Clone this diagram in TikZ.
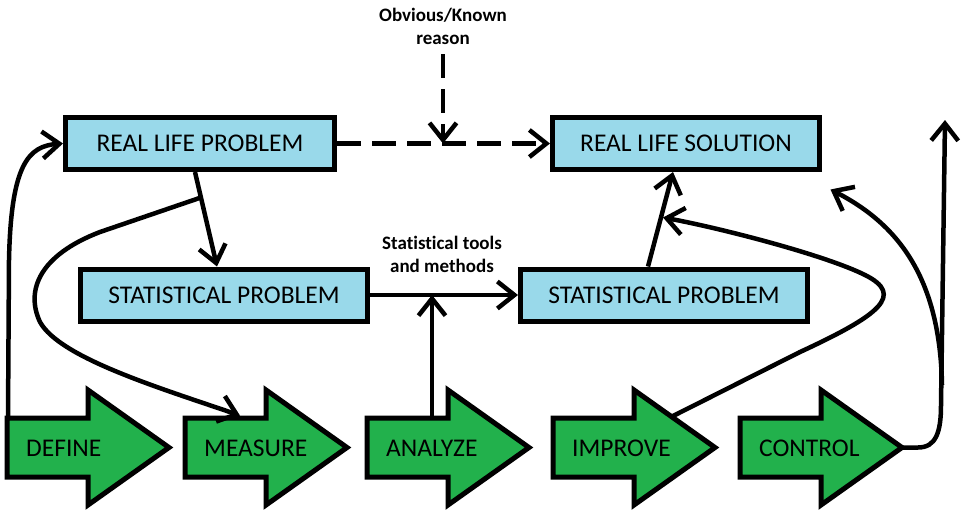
\documentclass[tikz,border=0pt]{standalone}
\usepackage{fontspec}
\setmainfont{Carlito}[Ligatures=NoCommon]
\usetikzlibrary{arrows.meta,calc}
\definecolor{boxblue}{HTML}{99D9EA}
\definecolor{stagegreen}{HTML}{22B14C}

% one DMAIC stage: name, left x, label
\newcommand\stagearrow[3]{%
  \draw[stageshape] (#2,418) -- (#2+81,418) -- (#2+81,390) -- (#2+162,447.5)
    -- (#2+81,505) -- (#2+81,477) -- (#2,477) -- cycle;
  \node[stagespan] (#1) at (#2,447.5) {};
  \node[stagetext] (#1-label) at (#2+19,448) {#3};
}

\begin{document}
\begin{tikzpicture}[x=1pt,y=-1pt,
  conn/.style={line width=4.5pt,-{Straight Barb[length=17pt,width=27pt]}},
  dashconn/.style={conn,dash pattern=on 24pt off 11pt},
  bluebox/.style={draw,line width=5pt,fill=boxblue,inner sep=0pt,
    minimum height=52pt,font=\fontsize{25.5}{30}\selectfont},
  stageshape/.style={draw,line width=5pt,fill=stagegreen,line join=miter},
  stagespan/.style={inner sep=0pt,minimum width=162pt,minimum height=115pt,anchor=west},
  stagetext/.style={inner sep=0pt,anchor=west,font=\fontsize{25.5}{30}\selectfont},
  note/.style={align=center,inner sep=0pt,font=\bfseries\fontsize{19}{23}\selectfont}]

\fill[white] (0,0) rectangle (963,509);
\useasboundingbox (0,0) rectangle (963,509);

% problem / solution boxes
\node[bluebox,minimum width=269pt] (rlp) at (200,143.5) {REAL LIFE PROBLEM};
\node[bluebox,minimum width=267pt] (rls) at (686,143.5) {REAL LIFE SOLUTION};
\node[bluebox,minimum width=287pt] (st1) at (224,295) {STATISTICAL PROBLEM};
\node[bluebox,minimum width=287pt] (st2) at (664,295) {STATISTICAL PROBLEM};

% notes
\node[note] (why) at (443,26) {Obvious/Known\\reason};
\node[note] (tools) at (442,254) {Statistical tools\\and methods};

% DMAIC stages
\stagearrow{def}{7}{DEFINE}
\stagearrow{mea}{185}{MEASURE}
\stagearrow{ana}{367}{ANALYZE}
\stagearrow{imp}{553}{IMPROVE}
\stagearrow{con}{740}{CONTROL}

% shortcut through the obvious reason
\coordinate (join) at (why.south |- rlp.east);
\draw[dashconn] (rlp.east) -- (rls.west);
\draw[dashconn,shorten <=10pt] (why.south) -- (join);

% statistical route
\coordinate (rlpout) at ($(rlp.south)+(-5,0)$);
\coordinate (st1in) at ($(st1.north)+(-7,0)$);
\draw[conn] (rlpout) -- (st1in);
\draw[conn] (st1.east) -- (st2.west);
\coordinate (anatop) at ($(ana.west)+(65,-29.5)$);
\draw[conn] (anatop) -- (anatop |- st1.east);
\draw[conn] ($(st2.north)+(-16,0)$) -- ($(rls.south)+(-13,0)$);

% stage feedback loops
\coordinate (deftop) at ($(def.west)+(1,-29.5)$);
\draw[conn] (deftop) -- (9,260) .. controls (11,165) and (28,146) .. (rlp.west);

\coordinate (branch) at ($(rlpout)!0.27!(st1in)$);
\coordinate (meatop) at ($(mea.west)+(55,-32)$);
\draw[conn] (branch) -- (100,232) .. controls (40,255) and (25,290) .. (40,322)
  .. controls (60,358) and (160,388) .. (meatop);

\coordinate (impedge) at ($(imp.west)+(119,-31)$);
\coordinate (solin) at ($(rls.south)+(-23,45.5)$);
\draw[conn] (impedge) -- (800,352) .. controls (880,315) and (905,295) .. (865,275)
  .. controls (825,255) and (720,228) .. (solin);

\coordinate (rise) at (945,120);
\coordinate (fork) at (942,385);
\coordinate (solcorner) at ($(rls.south east)+(8.5,17.5)$);
\draw[conn] (con.east) -- (918,447.5) .. controls (936,447.5) and (941,432) .. (941,405)
  -- (rise);
\draw[conn] (fork) .. controls (940,280) and (900,225) .. (solcorner);

\end{tikzpicture}
\end{document}
